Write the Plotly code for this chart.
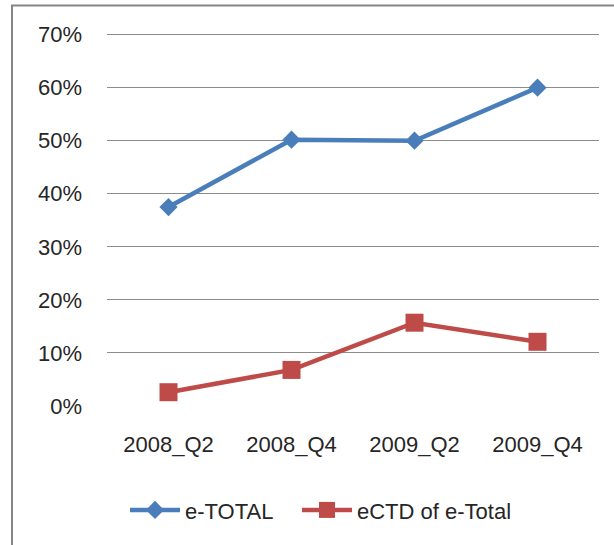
import plotly.graph_objects as go

categories = ["2008_Q2", "2008_Q4", "2009_Q2", "2009_Q4"]
e_total = [0.375, 0.502, 0.500, 0.600]
ectd_of_e_total = [0.026, 0.068, 0.157, 0.121]
y_ticks = [0, 0.1, 0.2, 0.3, 0.4, 0.5, 0.6, 0.7]
y_tick_labels = ["0%", "10%", "20%", "30%", "40%", "50%", "60%", "70%"]

FONT = "Liberation Sans"
W, H = 614, 545
Y_MAX = 0.72
PX_PER_UNIT = 371 / 0.7
L, R, B = 107, 15, 139
ph = PX_PER_UNIT * Y_MAX
T = H - B - ph
pw = W - L - R

fig = go.Figure()
fig.add_trace(go.Scatter(
    x=categories, y=e_total, name="e-TOTAL", mode="lines+markers",
    line=dict(color="#4A7EBB", width=4.5),
    marker=dict(symbol="diamond", size=14, color="#4A7EBB"),
    legend="legend",
))
fig.add_trace(go.Scatter(
    x=categories, y=ectd_of_e_total, name="eCTD of e-Total", mode="lines+markers",
    line=dict(color="#BE4B48", width=4.5),
    marker=dict(symbol="square", size=18, color="#BE4B48"),
    legend="legend2",
))

def px_x(x):
    return (x - L) / pw

def px_y(y):
    return (H - B - y) / ph

legend_common = dict(orientation="h", xanchor="left", y=px_y(510), yanchor="middle",
                     font=dict(size=22), itemwidth=50, bgcolor="rgba(0,0,0,0)")

fig.update_layout(
    width=W, height=H,
    margin=dict(l=L, r=R, t=T, b=B),
    paper_bgcolor="white", plot_bgcolor="white",
    font=dict(family=FONT, size=22, color="#262626"),
    showlegend=True,
    legend=dict(x=px_x(125), **legend_common),
    legend2=dict(x=px_x(297), **legend_common),
    xaxis=dict(type="category", range=[-0.5, 3.5], showgrid=False, showline=False,
               zeroline=False, ticks="", ticklabelstandoff=23, tickfont=dict(size=22)),
    yaxis=dict(range=[0, Y_MAX], tickvals=y_ticks, ticktext=y_tick_labels,
               showgrid=True, gridcolor="#8C8C8C", gridwidth=1, zeroline=False,
               showline=False, ticks="", ticklabelstandoff=24, tickfont=dict(size=22)),
    shapes=[
        dict(type="rect", xref="paper", yref="paper", x0=px_x(12), x1=px_x(660),
             y0=px_y(600), y1=px_y(6), line=dict(color="#868686", width=2),
             fillcolor="rgba(0,0,0,0)", layer="above"),
    ],
)

fig.write_html("out.html", config={"displayModeBar": False},
               post_script="document.body.style.margin='0px';")
